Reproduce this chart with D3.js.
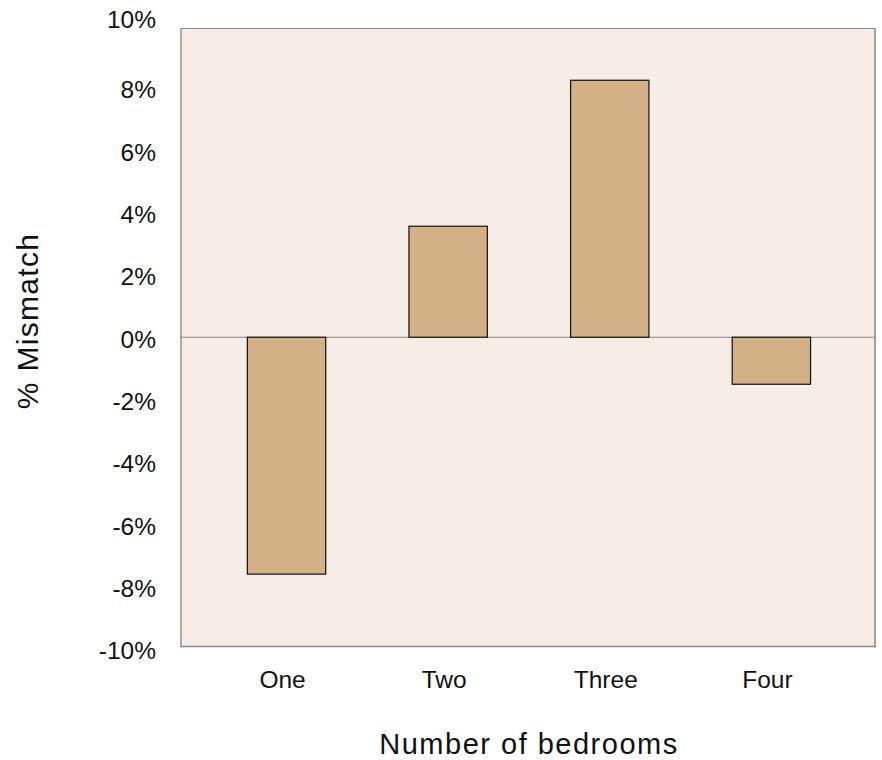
<!DOCTYPE html>
<html>
<head>
<meta charset="utf-8">
<script src="https://cdn.jsdelivr.net/npm/d3@7"></script>
<style>
  html, body { margin: 0; padding: 0; background: #ffffff; }
  svg { display: block; }
  text { font-family: "Liberation Sans", "Helvetica Neue", Helvetica, Arial, sans-serif; fill: #111; }
</style>
</head>
<body>
<svg id="chart" width="882" height="760"></svg>
<script>
// Data
const categories = ["One", "Two", "Three", "Four"];
const mismatch = [-7.66, 3.59, 8.31, -1.52];
const yTicks = [-10, -8, -6, -4, -2, 0, 2, 4, 6, 8, 10];
const xTitle = "Number of bedrooms";
const yTitle = "% Mismatch";

(function () {
const svg = d3.select("#chart");
const pLeft = 181, pRight = 875, pTop = 28, pBottom = 646.5;

const x = d3.scaleBand().domain(categories).range([182.7, 875.2])
  .paddingInner(0.515).paddingOuter(0.4);
const y = d3.scaleLinear().domain([-10, 10]).range([pBottom, pTop]);
const yLab = d3.scaleLinear().domain([-10, 10]).range([651, 27.5]);

// plot background
svg.append("rect")
  .attr("x", pLeft).attr("y", pTop)
  .attr("width", pRight - pLeft).attr("height", pBottom - pTop)
  .attr("fill", "#F5EDE6");

// frame
svg.append("line").attr("x1", pLeft).attr("x2", pRight).attr("y1", pTop + 0.5).attr("y2", pTop + 0.5)
  .attr("stroke", "#8a8a8a").attr("stroke-width", 1);
svg.append("line").attr("x1", pLeft).attr("x2", pLeft).attr("y1", pTop).attr("y2", pBottom + 1)
  .attr("stroke", "#aaaaaa").attr("stroke-width", 2);
svg.append("line").attr("x1", pRight).attr("x2", pRight).attr("y1", pTop).attr("y2", pBottom + 1)
  .attr("stroke", "#a0a0a0").attr("stroke-width", 2);
svg.append("line").attr("x1", pLeft).attr("x2", pRight + 1).attr("y1", pBottom).attr("y2", pBottom)
  .attr("stroke", "#8a8a8a").attr("stroke-width", 1.5);

// zero line
svg.append("line").attr("x1", pLeft).attr("x2", pRight).attr("y1", y(0)).attr("y2", y(0))
  .attr("stroke", "#888888").attr("stroke-width", 1.2);

// bars
svg.append("g").selectAll("rect").data(categories).join("rect")
  .attr("x", d => x(d))
  .attr("width", x.bandwidth())
  .attr("y", (d, i) => y(Math.max(0, mismatch[i])))
  .attr("height", (d, i) => Math.abs(y(mismatch[i]) - y(0)))
  .attr("fill", "#D2B186")
  .attr("stroke", "#111")
  .attr("stroke-width", 1.2);

// y axis labels
const yAxis = d3.axisLeft(yLab).tickValues(yTicks).tickSize(0).tickPadding(0)
  .tickFormat(d => d + "%");
const gy = svg.append("g").attr("transform", "translate(156,0)").call(yAxis);
gy.select(".domain").remove();
gy.selectAll("text").attr("font-size", 24.5).attr("fill", "#1a1a1a")
  .style("font-family", "'Liberation Sans', Helvetica, Arial, sans-serif");
gy.selectAll(".tick").filter(d => d === 10).select("text").attr("dy", "-0.02em");

// x axis labels
const xAxis = d3.axisBottom(x).tickSize(0).tickPadding(0);
const gx = svg.append("g").attr("transform", "translate(-4,671)").call(xAxis);
gx.select(".domain").remove();
gx.selectAll("text").attr("font-size", 24.5).attr("fill", "#1a1a1a")
  .style("font-family", "'Liberation Sans', Helvetica, Arial, sans-serif");

// titles
svg.append("text")
  .attr("x", 529).attr("y", 754)
  .attr("text-anchor", "middle")
  .attr("font-size", 29)
  .style("letter-spacing", "1.5px")
  .text(xTitle);

svg.append("text")
  .attr("transform", "translate(38,321) rotate(-90)")
  .attr("text-anchor", "middle")
  .attr("font-size", 30)
  .style("letter-spacing", "1.3px")
  .text(yTitle);
})();
</script>
</body>
</html>
